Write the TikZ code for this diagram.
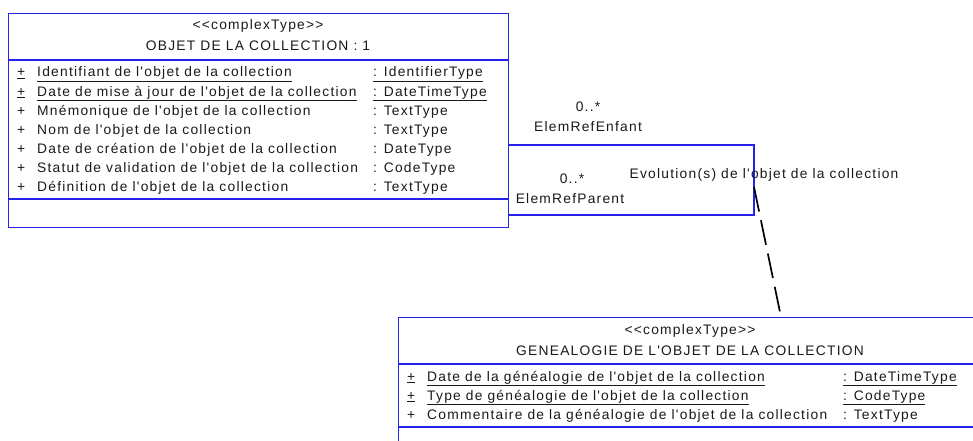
\documentclass[tikz,border=0pt]{standalone}
\usepackage{fontspec}
\newfontfamily\umlfont{Liberation Sans}[LetterSpace=9]
\definecolor{umlblue}{RGB}{35,35,235}
\begin{document}
\begin{tikzpicture}[x=1pt,y=-1pt,
  txt/.style={inner sep=0pt, font=\umlfont\fontsize{13.8}{15}\selectfont, text=black!90},
  lft/.style={txt, anchor=base west},
  ctr/.style={txt, anchor=base},
  box/.style={draw=umlblue, line width=1.1pt},
  umlbox/.style={box, rectangle, inner sep=0pt, anchor=north west},
  dep/.style={draw=black, line width=1.7pt, dash pattern=on 25pt off 9pt}]
\useasboundingbox (0,0) rectangle (973,441);

% ---------- top class ----------
\node[umlbox, minimum width=500pt, minimum height=214pt] (objet) at (8,13) {};
\draw[box] (8,60) -- (508,60);
\draw[box] (8,199) -- (508,199);
\node[ctr] (objst) at (258,30) {<<complexType>>};
\node[ctr] (objname) at (258,51) {OBJET DE LA COLLECTION : 1};

\node[lft] (p1) at (17,77) {\underline{+}};
\node[lft] (n1) at (37,77) {\underline{Identifiant de l'objet de la collection}};
\node[lft] (t1) at (373,77) {\underline{: IdentifierType}};
\node[lft] (p2) at (17,96) {\underline{+}};
\node[lft] (n2) at (37,96) {\underline{Date de mise à jour de l'objet de la collection}};
\node[lft] (t2) at (373,96) {\underline{: DateTimeType}};
\node[lft] (p3) at (17,115) {+};
\node[lft] (n3) at (37,115) {Mnémonique de l'objet de la collection};
\node[lft] (t3) at (373,115) {: TextType};
\node[lft] (p4) at (17,134) {+};
\node[lft] (n4) at (37,134) {Nom de l'objet de la collection};
\node[lft] (t4) at (373,134) {: TextType};
\node[lft] (p5) at (17,153) {+};
\node[lft] (n5) at (37,153) {Date de création de l'objet de la collection};
\node[lft] (t5) at (373,153) {: DateType};
\node[lft] (p6) at (17,172) {+};
\node[lft] (n6) at (37,172) {Statut de validation de l'objet de la collection};
\node[lft] (t6) at (373,172) {: CodeType};
\node[lft] (p7) at (17,191) {+};
\node[lft] (n7) at (37,191) {Définition de l'objet de la collection};
\node[lft] (t7) at (373,191) {: TextType};

% ---------- self association ----------
\coordinate (a1) at (508,145);
\coordinate (a2) at (754,145);
\coordinate (a3) at (754,215);
\coordinate (a4) at (508,215);
\draw[box] (a1) -- (a2) -- (a3) -- (a4);
\node[ctr] (m1) at (588,112) {0..*};
\node[ctr] (r1) at (588,131) {ElemRefEnfant};
\node[ctr] (m2) at (572,183) {0..*};
\node[ctr] (r2) at (570,203) {ElemRefParent};
\node[ctr] (assocname) at (764,178) {Evolution(s) de l'objet de la collection};

% ---------- bottom class ----------
\node[umlbox, minimum width=584pt, minimum height=140pt] (genea) at (398,317) {};
\draw[box] (398,364) -- (982,364);
\draw[box] (398,427) -- (982,427);
\node[ctr] (genst) at (690,334) {<<complexType>>};
\node[ctr] (genname) at (690,355) {GENEALOGIE DE L'OBJET DE LA COLLECTION};

\node[lft] (q1) at (407,381) {\underline{+}};
\node[lft] (g1) at (427,381) {\underline{Date de la généalogie de l'objet de la collection}};
\node[lft] (u1) at (843,381) {\underline{: DateTimeType}};
\node[lft] (q2) at (407,400) {\underline{+}};
\node[lft] (g2) at (427,400) {\underline{Type de généalogie de l'objet de la collection}};
\node[lft] (u2) at (843,400) {\underline{: CodeType}};
\node[lft] (q3) at (407,419) {+};
\node[lft] (g3) at (427,419) {Commentaire de la généalogie de l'objet de la collection};
\node[lft] (u3) at (843,419) {: TextType};

% ---------- dependency ----------
\coordinate (dstart) at (754,187);
\coordinate (dend) at (781,317);
\draw[dep] (dstart) -- (dend);
\end{tikzpicture}
\end{document}
